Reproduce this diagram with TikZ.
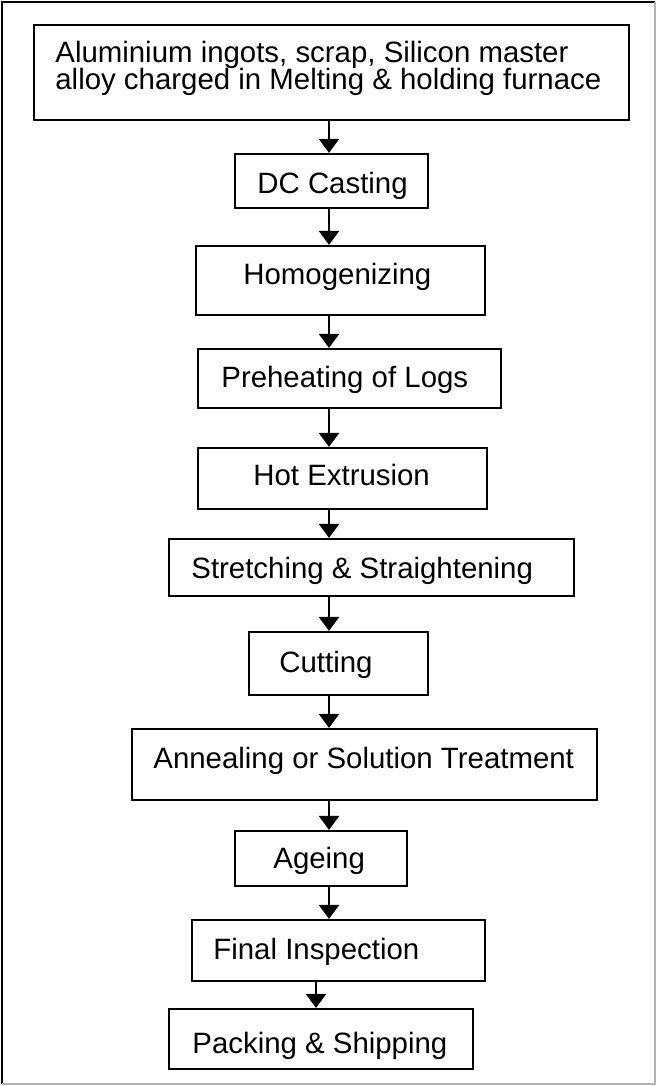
\documentclass[tikz,border=0pt]{standalone}
\usepackage{fontspec}
\setmainfont{Liberation Sans}
\usetikzlibrary{arrows.meta,fit}

\begin{document}
\begin{tikzpicture}[x=0.5pt,y=-0.5pt,
	stepbox/.style={draw, line width=1.1pt, inner sep=0pt},
	steptext/.style={anchor=base west, inner sep=0pt, font=\fontsize{14.7pt}{13.5pt}\selectfont},
	flow/.style={line width=1.2pt, -{Triangle[width=10pt,length=7pt]}}]
	\useasboundingbox (0,0) rectangle (656,1086);
	
	% frame
	\draw[line width=1.4pt] (2,1084) -- (2,2) -- (655,2);
	\draw[line width=1pt, gray!60] (655,2) -- (655,1084) -- (2,1084);
	
	% spines of the arrows
	\coordinate (spine) at (329,0);
	\coordinate (lastspine) at (316,0);
	
	% boxes
	\node[stepbox, fit={(34,25) (629,120)}] (melt) {};
	\node[stepbox, fit={(235,154) (428,208)}] (cast) {};
	\node[stepbox, fit={(196,246) (485,315)}] (homog) {};
	\node[stepbox, fit={(198,349) (501,408)}] (preheat) {};
	\node[stepbox, fit={(198,448) (487,509)}] (extr) {};
	\node[stepbox, fit={(169,539) (574,596)}] (stretch) {};
	\node[stepbox, fit={(249,632) (428,695)}] (cut) {};
	\node[stepbox, fit={(132,729) (597,800)}] (anneal) {};
	\node[stepbox, fit={(235,831) (407,886)}] (age) {};
	\node[stepbox, fit={(192,920) (485,981)}] (final) {};
	\node[stepbox, fit={(169,1009) (473,1069)}] (pack) {};
	
	% texts
	\node[steptext] (melt-a) at (55,63) {Aluminium ingots, scrap, Silicon master};
	\node[steptext] (melt-b) at (55,90) {alloy charged in Melting \& holding furnace};
	\node[steptext] (cast-t) at (257,193) {DC Casting};
	\node[steptext] (homog-t) at (243,284) {Homogenizing};
	\node[steptext] (preheat-t) at (221,387) {Preheating of Logs};
	\node[steptext] (extr-t) at (253,485) {Hot Extrusion};
	\node[steptext] (stretch-t) at (191,578) {Stretching \& Straightening};
	\node[steptext] (cut-t) at (279,672) {Cutting};
	\node[steptext] (anneal-t) at (153,768) {Annealing or Solution Treatment};
	\node[steptext] (age-t) at (273,868) {Ageing};
	\node[steptext] (final-t) at (213,959) {Final Inspection};
	\node[steptext] (pack-t) at (192,1053) {Packing \& Shipping};
	
	% arrows
	\foreach \a/\b in {melt/cast, cast/homog, homog/preheat, preheat/extr, extr/stretch,
		stretch/cut, cut/anneal, anneal/age, age/final} {
		\draw[flow] (\a.south -| spine) -- (\b.north -| spine);
	}
	\draw[flow] (final.south -| lastspine) -- (pack.north -| lastspine);
	
\end{tikzpicture}
\end{document}
